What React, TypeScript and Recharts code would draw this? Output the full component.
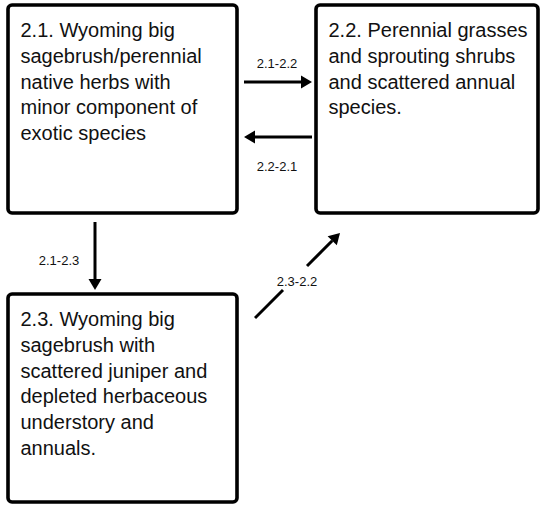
import React from 'react';
import { ScatterChart, XAxis, YAxis, Scatter, ReferenceArea, ReferenceLine } from 'recharts';

// Diagram coordinate space (matches picture pixels)
const stateIds = ['2.1', '2.2', '2.3'];
const stateLeft = [8, 316, 8];
const stateRight = [237, 538, 237];
const stateTop = [5, 5, 294];
const stateBottom = [213, 213, 502];
const stateLines = [
  ['2.1. Wyoming big', 'sagebrush/perennial', 'native herbs with', 'minor component of', 'exotic species'],
  ['2.2. Perennial grasses', 'and sprouting shrubs', 'and scattered annual', 'species.'],
  ['2.3. Wyoming big', 'sagebrush with', 'scattered juniper and', 'depleted herbaceous', 'understory and', 'annuals.'],
];

// Transition segments: [x1, y1, x2, y2, hasHead]
const transitionIds = ['2.1-2.2', '2.2-2.1', '2.1-2.3', '2.3-2.2a', '2.3-2.2b'];
const segX1 = [244, 312, 95, 255, 307];
const segY1 = [82, 137, 222, 318, 266];
const segX2 = [312, 244, 95, 283, 340];
const segY2 = [82, 137, 290, 290, 233];
const segHead = [true, true, true, false, true];

const labelText = ['2.1-2.2', '2.2-2.1', '2.1-2.3', '2.3-2.2'];
const labelX = [277, 277, 59, 297];
const labelY = [63, 166, 260, 281];
const labels = labelText.map((t, i) => ({ x: labelX[i], y: labelY[i], text: t }));

const FONT = 'Liberation Sans, Arial, Helvetica, sans-serif';

const BoxShape = (props: any, lines: string[]) => {
  const { x, y, width, height } = props;
  return (
    <g>
      <rect x={x} y={y} width={width} height={height} rx={4} ry={4} fill="#fff" stroke="#000" strokeWidth={3.6} />
      {lines.map((l, i) => (
        <text key={i} x={x + 12.5} y={y + 32 + i * 25.8} fontFamily={FONT} fontSize={20} fill="#111">
          {l}
        </text>
      ))}
    </g>
  );
};

const ArrowShape = (props: any, head: boolean) => {
  const { x1, y1, x2, y2 } = props;
  const dx = x2 - x1;
  const dy = y2 - y1;
  const len = Math.sqrt(dx * dx + dy * dy) || 1;
  const ux = dx / len;
  const uy = dy / len;
  const hl = head ? 11 : 0;
  const hw = 6.5;
  const bx = x2 - ux * hl;
  const by = y2 - uy * hl;
  return (
    <g>
      <line x1={x1} y1={y1} x2={bx} y2={by} stroke="#000" strokeWidth={3} />
      {head && (
        <polygon
          points={`${x2},${y2} ${bx - uy * hw},${by + ux * hw} ${bx + uy * hw},${by - ux * hw}`}
          fill="#000"
        />
      )}
    </g>
  );
};

const LabelShape = (props: any) => {
  const { cx, cy, payload } = props;
  return (
    <text x={cx} y={cy} textAnchor="middle" dominantBaseline="central" fontFamily={FONT} fontSize={13} fill="#111">
      {payload.text}
    </text>
  );
};

export default function App() {
  return (
    <div style={{ position: 'absolute', left: 0, top: 0, background: '#fff' }}>
      <ScatterChart width={544} height={506} margin={{ top: 0, right: 0, bottom: 0, left: 0 }}>
        <XAxis type="number" dataKey="x" domain={[0, 544]} hide allowDataOverflow />
        <YAxis type="number" dataKey="y" domain={[0, 506]} reversed hide allowDataOverflow />
        {stateIds.map((id, i) => (
          <ReferenceArea
            key={id}
            x1={stateLeft[i]}
            x2={stateRight[i]}
            y1={stateTop[i]}
            y2={stateBottom[i]}
            ifOverflow="visible"
            shape={(p: any) => BoxShape(p, stateLines[i])}
          />
        ))}
        {transitionIds.map((id, i) => (
          <ReferenceLine
            key={id}
            segment={[
              { x: segX1[i], y: segY1[i] },
              { x: segX2[i], y: segY2[i] },
            ]}
            ifOverflow="visible"
            shape={(p: any) => ArrowShape(p, segHead[i])}
          />
        ))}
        <Scatter data={labels} isAnimationActive={false} shape={LabelShape} />
      </ScatterChart>
    </div>
  );
}
